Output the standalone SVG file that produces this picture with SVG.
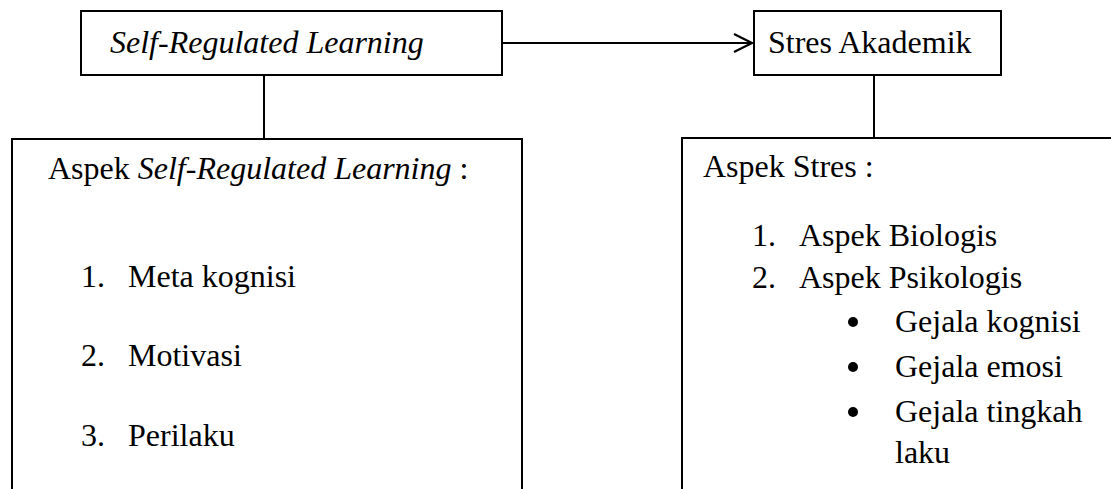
<svg xmlns="http://www.w3.org/2000/svg" width="1111" height="489" viewBox="0 0 1111 489">
<style>
.box{fill:none;stroke:#000;stroke-width:2}
.ln{fill:none;stroke:#000;stroke-width:2}
text{font-family:"Liberation Serif","Times New Roman",serif;font-size:32px;fill:#000}
.it{font-style:italic}
</style>
<defs>
<marker id="open" viewBox="0 0 20 20" refX="19" refY="10" markerWidth="20" markerHeight="20" markerUnits="userSpaceOnUse" orient="auto">
<path d="M1,1 L19,10 L1,19" fill="none" stroke="#000" stroke-width="2.2"/>
</marker>
</defs>
<rect width="1111" height="489" fill="#fff"/>
<g id="connectors">
<line class="ln" x1="502" y1="43" x2="752" y2="43" marker-end="url(#open)"/>
<line class="ln" x1="264" y1="75" x2="264" y2="139"/>
<line class="ln" x1="874" y1="75" x2="874" y2="138"/>
</g>
<g id="srl">
<rect class="box" x="81" y="11" width="421" height="64"/>
<text x="110" y="53" class="it">Self-Regulated Learning</text>
</g>
<g id="stres">
<rect class="box" x="754" y="11" width="247" height="64"/>
<text x="768" y="53">Stres Akademik</text>
</g>
<g id="aspek-srl">
<path class="box" d="M12,489 L12,139 L522,139 L522,489"/>
<text x="48" y="179">Aspek <tspan class="it">Self-Regulated Learning</tspan> :</text>
<text x="81" y="287">1.</text><text x="128" y="287">Meta kognisi</text>
<text x="81" y="366">2.</text><text x="128" y="366">Motivasi</text>
<text x="81" y="446">3.</text><text x="128" y="446">Perilaku</text>
</g>
<g id="aspek-stres">
<path class="box" d="M682,489 L682,138 L1112,138"/>
<text x="703" y="177">Aspek Stres :</text>
<text x="752" y="246">1.</text><text x="799" y="246">Aspek Biologis</text>
<text x="752" y="288">2.</text><text x="799" y="288">Aspek Psikologis</text>
<circle cx="853" cy="322" r="5"/><text x="895" y="332">Gejala kognisi</text>
<circle cx="853" cy="367" r="5"/><text x="895" y="377">Gejala emosi</text>
<circle cx="853" cy="412" r="5"/><text x="895" y="422">Gejala tingkah</text>
<text x="895" y="463">laku</text>
</g>
</svg>
